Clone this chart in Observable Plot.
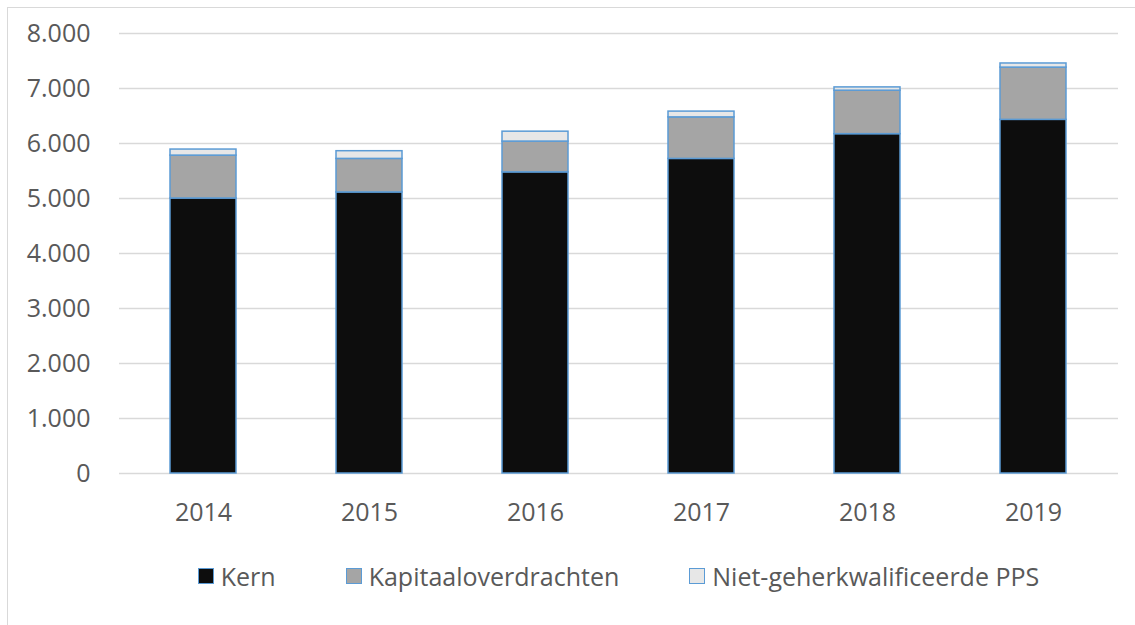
<!DOCTYPE html>
<html>
<head>
<meta charset="utf-8">
<script src="https://cdn.jsdelivr.net/npm/d3@7"></script>
<script src="https://cdn.jsdelivr.net/npm/@observablehq/plot@0.6"></script>
<style>
  html, body { margin: 0; padding: 0; background: #fff; overflow: hidden; width: 1135px; height: 625px; }
  #frame { position: absolute; left: 7px; top: 7px; width: 1300px; height: 800px;
           border-left: 1.5px solid #d9d9d9; border-top: 1.5px solid #d9d9d9; }
  #chart { position: absolute; left: 0; top: 0; }
  #legend { position: absolute; left: 119px; width: 999px; top: 562px; height: 28px;
            display: flex; justify-content: center; align-items: center; gap: 70px;
            font-family: "Open Sans", sans-serif; font-size: 25px; color: #595959; }
  .item { display: flex; align-items: center; gap: 7px; white-space: nowrap; }
  .sw { width: 14px; height: 14px; border: 1.5px solid #5B9BD5; }
</style>
</head>
<body>
<div id="frame"></div>
<div id="chart"></div>
<div id="legend"></div>
<script>
const years = ["2014", "2015", "2016", "2017", "2018", "2019"];
const seriesNames = ["Kern", "Kapitaaloverdrachten", "Niet-geherkwalificeerde PPS"];
const kern = [5000, 5110, 5475, 5720, 6170, 6430];
const kapitaal = [780, 610, 560, 755, 790, 950];
const niet = [110, 140, 180, 105, 60, 75];
const yTicks = [0, 1000, 2000, 3000, 4000, 5000, 6000, 7000, 8000];
const colors = ["#0d0d0d", "#a5a5a5", "#e7e7e7"];

const seriesValues = [kern, kapitaal, niet];
const data = [];
seriesNames.forEach((s, si) => {
  years.forEach((y, yi) => data.push({ year: y, series: s, value: seriesValues[si][yi] }));
});

const nl = d3.formatLocale({ decimal: ",", thousands: ".", grouping: [3], currency: ["", ""] });
const fmt = nl.format(",");

const chart = Plot.plot({
  width: 1135,
  height: 545,
  marginLeft: 119,
  marginRight: 17,
  marginTop: 33,
  marginBottom: 72,
  style: { fontFamily: "Open Sans, sans-serif", fontSize: "25px", color: "#595959", background: "transparent", overflow: "visible" },
  x: { domain: years, paddingInner: 0.6, paddingOuter: 0.3, label: null },
  y: { domain: [0, 8000], label: null },
  color: { domain: seriesNames, range: colors },
  marks: [
    Plot.ruleY(yTicks, { stroke: "#d9d9d9", strokeWidth: 1.5 }),
    Plot.barY(data, Plot.stackY({ order: seriesNames }, {
      x: "year", y: "value", fill: "series", stroke: "#5B9BD5", strokeWidth: 1.5
    })),
    Plot.axisY({ ticks: yTicks, tickSize: 0, tickPadding: 29, tickFormat: fmt, label: null }),
    Plot.axisX({ tickSize: 0, tickPadding: 30, label: null })
  ]
});
document.getElementById("chart").appendChild(chart);

const legend = document.getElementById("legend");
seriesNames.forEach((s, i) => {
  const it = document.createElement("div");
  it.className = "item";
  const sw = document.createElement("div");
  sw.className = "sw";
  sw.style.background = colors[i];
  const t = document.createElement("span");
  t.textContent = s;
  it.appendChild(sw);
  it.appendChild(t);
  legend.appendChild(it);
});
</script>
</body>
</html>
